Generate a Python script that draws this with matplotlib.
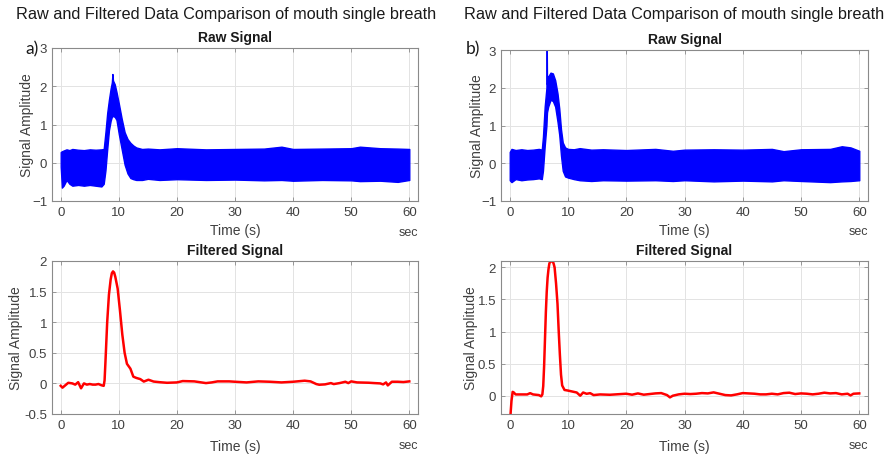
import matplotlib
matplotlib.use('Agg')
import matplotlib.pyplot as plt

plt.rcParams['font.family'] = ['Liberation Sans', 'DejaVu Sans']

# Raw signal a) - envelope of the dense noise band
t_raw_a = [0, 0.2, 0.5, 1, 1.5, 2, 3, 4, 5, 6, 7, 7.4, 7.7, 8.0, 8.3, 8.6, 8.8, 8.9, 9.0, 9.3, 9.6,
           10.0, 10.5, 11.0, 11.5, 12.0, 12.5, 13, 14, 15, 17, 20, 25, 30, 35, 38, 40, 45, 50, 51.5,
           55, 58, 60]
raw_up_a = [0.28, 0.3, 0.32, 0.35, 0.33, 0.36, 0.34, 0.33, 0.35, 0.34, 0.35, 0.36, 0.8, 1.3, 1.65,
            1.95, 2.1, 2.32, 2.15, 2.05, 1.85, 1.55, 1.15, 0.8, 0.62, 0.52, 0.45, 0.4, 0.36, 0.37,
            0.35, 0.38, 0.35, 0.36, 0.37, 0.42, 0.36, 0.37, 0.38, 0.42, 0.38, 0.37, 0.36]
raw_lo_a = [-0.1, -0.65, -0.6, -0.45, -0.55, -0.6, -0.58, -0.6, -0.58, -0.6, -0.62, -0.55, -0.2,
            0.35, 0.85, 1.1, 1.2, 1.23, 1.22, 1.2, 1.12, 0.75, 0.35, -0.05, -0.28, -0.4, -0.43,
            -0.45, -0.45, -0.42, -0.45, -0.43, -0.45, -0.44, -0.46, -0.45, -0.47, -0.45, -0.46,
            -0.48, -0.47, -0.5, -0.45]

# Raw signal b)
t_raw_b = [0, 0.3, 1, 2, 3, 4, 5, 5.5, 5.7, 6.0, 6.3, 6.35, 6.4, 6.6, 7.0, 7.4, 7.8, 8.2, 8.5, 8.8,
           9.1, 9.5, 10, 11, 12, 14, 16, 20, 25, 28, 30, 35, 40, 45, 47, 50, 55, 57, 58.5, 60]
raw_up_b = [0.3, 0.38, 0.35, 0.37, 0.35, 0.36, 0.38, 0.36, 0.7, 1.5, 2.0, 3.2, 2.1, 2.3, 2.4, 2.38,
            2.2, 1.85, 1.45, 0.9, 0.55, 0.42, 0.38, 0.37, 0.4, 0.36, 0.37, 0.35, 0.38, 0.33, 0.36,
            0.37, 0.36, 0.38, 0.32, 0.37, 0.38, 0.45, 0.42, 0.33]
raw_lo_b = [-0.45, -0.5, -0.42, -0.45, -0.43, -0.42, -0.4, -0.42, -0.2, 0.45, 1.0, 1.2, 1.35, 1.5,
            1.68, 1.65, 1.5, 1.1, 0.75, 0.2, -0.2, -0.35, -0.38, -0.42, -0.45, -0.47, -0.45, -0.46,
            -0.45, -0.47, -0.45, -0.48, -0.46, -0.48, -0.45, -0.47, -0.5, -0.48, -0.47, -0.45]

# Filtered signal a)
t_filt_a = [0, 0.3, 0.8, 1.3, 2, 2.5, 3, 3.5, 4, 4.5, 5, 5.5, 6, 6.5, 7, 7.4, 7.55, 7.7, 8.0, 8.3,
            8.6, 8.8, 9.0, 9.2, 9.4, 9.8, 10.2, 10.6, 11.0, 11.4, 12.0, 12.5, 13.0, 13.7, 14.3, 15.1,
            16, 17, 18.3, 20, 21, 23, 25, 26, 27, 29, 30, 32, 34, 36, 38, 40, 42, 43, 44, 44.5,
            45.5, 46.5, 47, 48, 49, 49.5, 50, 51, 53, 54, 55, 55.5, 56, 56.3, 57, 58, 59, 60]
filt_a = [-0.04, -0.07, -0.03, 0.01, 0.0, -0.02, 0.02, -0.08, 0.0, -0.02, -0.01, -0.02, -0.02,
          -0.01, -0.03, -0.04, 0.05, 0.35, 1.0, 1.45, 1.7, 1.8, 1.83, 1.81, 1.74, 1.55, 1.19, 0.8,
          0.5, 0.32, 0.24, 0.11, 0.09, 0.07, 0.03, 0.06, 0.03, 0.02, 0.01, 0.016, 0.038, 0.033,
          0.005, 0.016, 0.033, 0.033, 0.027, 0.016, 0.033, 0.027, 0.016, 0.027, 0.044, 0.033,
          -0.011, -0.022, -0.016, 0.005, -0.011, 0.005, 0.027, 0.005, 0.033, 0.016, 0.011, 0.005,
          0.0, -0.016, 0.016, -0.033, 0.027, 0.027, 0.022, 0.033]

# Filtered signal b)
t_filt_b = [0.05, 0.3, 0.5, 0.7, 1.0, 2, 3, 3.5, 4, 5, 5.4, 5.6, 5.75, 5.9, 6.05, 6.2, 6.35, 6.5,
            6.65, 6.8, 7.0, 7.3, 7.5, 7.7, 7.95, 8.2, 8.4, 8.6, 8.8, 9.0, 9.4, 10, 11, 11.5, 12.1,
            12.6, 13.2, 13.8, 14.4, 15.5, 17.2, 20, 21, 22, 23, 24, 25, 26, 27, 27.5, 28, 29, 30,
            31, 32, 33, 34, 35, 36, 37, 38, 39, 40, 41, 42, 43, 44, 45, 46, 47, 48, 49, 50, 51, 52,
            53, 54, 55, 56, 57, 58, 58.5, 59, 60]
filt_b = [-0.4, -0.08, 0.06, 0.05, 0.02, 0.02, 0.02, 0.04, 0.02, 0.01, -0.01, 0.02, 0.15, 0.46,
          0.88, 1.3, 1.62, 1.84, 1.97, 2.06, 2.1, 2.09, 2.07, 2.0, 1.75, 1.43, 1.02, 0.65, 0.33,
          0.16, 0.09, 0.08, 0.06, 0.05, 0.0, 0.05, 0.03, 0.04, 0.01, 0.02, 0.015, 0.031, 0.016,
          0.036, 0.016, 0.026, 0.036, 0.041, 0.01, -0.026, 0.0, 0.021, 0.031, 0.026, 0.031, 0.041,
          0.036, 0.052, 0.031, 0.01, 0.005, 0.021, 0.041, 0.036, 0.031, 0.021, 0.021, 0.031, 0.021,
          0.041, 0.047, 0.026, 0.036, 0.031, 0.021, 0.031, 0.047, 0.036, 0.041, 0.021, 0.031,
          0.005, 0.031, 0.036]

W, H = 888, 456
tick_col = '#404040'


def make_axes(fig, x0, x1, y0, y1):
    ax = fig.add_axes([x0 / W, 1 - y1 / H, (x1 - x0) / W, (y1 - y0) / H])
    ax.grid(True, color='#e3e3e3', linewidth=0.7)
    ax.set_axisbelow(True)
    for s in ax.spines.values():
        s.set_color('#8a8a8a')
        s.set_linewidth(0.8)
    ax.tick_params(direction='in', length=3, width=0.6, top=True, right=True,
                   colors='#8a8a8a', labelcolor=tick_col, labelsize=9.5)
    ax.set_xlim(-1.5, 61.5)
    ax.set_xticks([0, 10, 20, 30, 40, 50, 60])
    return ax


def decorate(ax, title, ylab_x, xlab_y):
    ax.set_title(title, fontsize=10, fontweight='bold', pad=5, color='#1a1a1a')
    ax.set_xlabel('Time (s)', fontsize=10, color=tick_col)
    ax.xaxis.set_label_coords(0.5, xlab_y)
    ax.set_ylabel('Signal Amplitude', fontsize=10, color=tick_col)
    ax.yaxis.set_label_coords(ylab_x, 0.5)
    ax.text(1.0, -0.2, 'sec', transform=ax.transAxes, ha='right', va='center',
            fontsize=9, color=tick_col)


fig = plt.figure(figsize=(8.88, 4.56), dpi=100)

# a) raw
ax1 = make_axes(fig, 52, 418, 49, 202)
ax1.fill_between(t_raw_a, raw_lo_a, raw_up_a, color='#0000ff', linewidth=1.0)
ax1.set_ylim(-1, 3)
ax1.set_yticks([-1, 0, 1, 2, 3])
decorate(ax1, 'Raw Signal', -0.049, -0.145)

# a) filtered
ax2 = make_axes(fig, 52, 418, 262, 415)
ax2.plot(t_filt_a, filt_a, color='#ff0000', linewidth=1.8)
ax2.set_ylim(-0.5, 2)
ax2.set_yticks([-0.5, 0, 0.5, 1, 1.5, 2])
ax2.set_yticklabels(['-0.5', '0', '0.5', '1', '1.5', '2'])
decorate(ax2, 'Filtered Signal', -0.079, -0.163)

# b) raw
ax3 = make_axes(fig, 501, 868, 51, 202)
ax3.fill_between(t_raw_b, raw_lo_b, raw_up_b, color='#0000ff', linewidth=1.0)
ax3.set_ylim(-1, 3)
ax3.set_yticks([-1, 0, 1, 2, 3])
decorate(ax3, 'Raw Signal', -0.046, -0.145)

# b) filtered
ax4 = make_axes(fig, 501, 868, 262, 415)
ax4.plot(t_filt_b, filt_b, color='#ff0000', linewidth=1.8)
ax4.set_ylim(-0.285, 2.1)
ax4.set_yticks([0, 0.5, 1, 1.5, 2])
ax4.set_yticklabels(['0', '0.5', '1', '1.5', '2'])
decorate(ax4, 'Filtered Signal', -0.062, -0.163)

sup = 'Raw and Filtered Data Comparison of mouth single breath'
fig.text(226 / W, 1 - 15 / H, sup, ha='center', va='center', fontsize=11.7, color='#1a1a1a')
fig.text(674 / W, 1 - 15 / H, sup, ha='center', va='center', fontsize=11.7, color='#1a1a1a')
fig.text(25 / W, 1 - 49 / H, 'a)', ha='left', va='center', fontsize=12.5,
         family=['Lato', 'DejaVu Sans'], color='#1a1a1a')
fig.text(466 / W, 1 - 49 / H, 'b)', ha='left', va='center', fontsize=12.5,
         family=['Lato', 'DejaVu Sans'], color='#1a1a1a')

fig.savefig('out.png', dpi=100)
